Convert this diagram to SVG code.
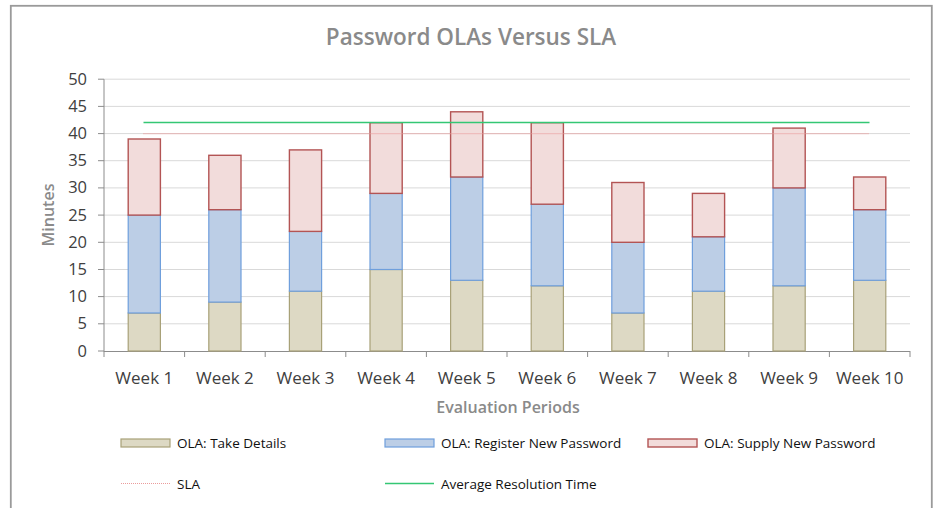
<svg xmlns="http://www.w3.org/2000/svg" width="936" height="508" viewBox="0 0 936 508">
<style>
.t{font-family:"Open Sans","Liberation Sans",sans-serif}
.title{font-size:22.5px;font-weight:600;fill:#8a8a8a}
.axt{font-size:16px;font-weight:600;fill:#8a8a8a}
.yl{font-size:16.5px;fill:#404040;text-anchor:end}
.xl{font-size:17px;fill:#404040;text-anchor:middle}
.lg{font-size:13.5px;fill:#111}
.grid{stroke:#d9d9d9;stroke-width:1}
.ax{stroke:#8c8c8c;stroke-width:1;fill:none}
.s1{fill:#ddd9c4;stroke:#a8a178;stroke-width:1.2}
.s2{fill:#bccee6;stroke:#6f9fdc;stroke-width:1.2}
.s3{fill:#f2dcdb;stroke:#b35454;stroke-width:1.4}
.avg{stroke:#34c774;stroke-width:1.5;fill:none}
.sla{stroke:#eb9c9c;stroke-width:1.2;stroke-dasharray:1 1;fill:none}
</style>
<rect x="0" y="0" width="936" height="508" fill="#ffffff"/>
<rect x="10.8" y="5.8" width="921" height="520" fill="none" stroke="#9a9a9a" stroke-width="1.8"/>
<text class="t title" x="471" y="45" text-anchor="middle">Password OLAs Versus SLA</text>
<g id="gridlines">
<line class="grid" x1="104" y1="323.8" x2="910" y2="323.8"/>
<line class="grid" x1="104" y1="296.6" x2="910" y2="296.6"/>
<line class="grid" x1="104" y1="269.5" x2="910" y2="269.5"/>
<line class="grid" x1="104" y1="242.3" x2="910" y2="242.3"/>
<line class="grid" x1="104" y1="215.1" x2="910" y2="215.1"/>
<line class="grid" x1="104" y1="187.9" x2="910" y2="187.9"/>
<line class="grid" x1="104" y1="160.7" x2="910" y2="160.7"/>
<line class="grid" x1="104" y1="133.6" x2="910" y2="133.6"/>
<line class="grid" x1="104" y1="106.4" x2="910" y2="106.4"/>
<line class="grid" x1="104" y1="79.2" x2="910" y2="79.2"/>
</g>
<g id="axes">
<path class="ax" d="M104,79.2V351.5H910 M98,351H104 M98,323.8H104 M98,296.6H104 M98,269.5H104 M98,242.3H104 M98,215.1H104 M98,187.9H104 M98,160.7H104 M98,133.6H104 M98,106.4H104 M98,79.2H104 M104,351V357 M184.6,351V357 M265.2,351V357 M345.8,351V357 M426.4,351V357 M507,351V357 M587.6,351V357 M668.2,351V357 M748.8,351V357 M829.4,351V357 M910,351V357"/>
</g>
<g id="ylabels" class="t yl">
<text x="87" y="356.5">0</text>
<text x="87" y="329.3">5</text>
<text x="87" y="302.1">10</text>
<text x="87" y="275">15</text>
<text x="87" y="247.8">20</text>
<text x="87" y="220.6">25</text>
<text x="87" y="193.4">30</text>
<text x="87" y="166.2">35</text>
<text x="87" y="139.1">40</text>
<text x="87" y="111.9">45</text>
<text x="87" y="84.7">50</text>
</g>
<text class="t axt" transform="translate(54,215) rotate(-90)" text-anchor="middle">Minutes</text>
<g id="week1"><rect class="s1" x="128.2" y="313" width="32.2" height="38"/><rect class="s2" x="128.2" y="215.1" width="32.2" height="97.9"/><rect class="s3" x="128.2" y="139" width="32.2" height="76.1"/></g>
<g id="week2"><rect class="s1" x="208.8" y="302.1" width="32.2" height="48.9"/><rect class="s2" x="208.8" y="209.7" width="32.2" height="92.4"/><rect class="s3" x="208.8" y="155.3" width="32.2" height="54.4"/></g>
<g id="week3"><rect class="s1" x="289.4" y="291.2" width="32.2" height="59.8"/><rect class="s2" x="289.4" y="231.4" width="32.2" height="59.8"/><rect class="s3" x="289.4" y="149.9" width="32.2" height="81.5"/></g>
<g id="week4"><rect class="s1" x="370" y="269.5" width="32.2" height="81.5"/><rect class="s2" x="370" y="193.4" width="32.2" height="76.1"/><rect class="s3" x="370" y="122.7" width="32.2" height="70.7"/></g>
<g id="week5"><rect class="s1" x="450.6" y="280.3" width="32.2" height="70.7"/><rect class="s2" x="450.6" y="177" width="32.2" height="103.3"/><rect class="s3" x="450.6" y="111.8" width="32.2" height="65.2"/></g>
<g id="week6"><rect class="s1" x="531.2" y="285.8" width="32.2" height="65.2"/><rect class="s2" x="531.2" y="204.2" width="32.2" height="81.6"/><rect class="s3" x="531.2" y="122.7" width="32.2" height="81.5"/></g>
<g id="week7"><rect class="s1" x="611.8" y="313" width="32.2" height="38"/><rect class="s2" x="611.8" y="242.3" width="32.2" height="70.7"/><rect class="s3" x="611.8" y="182.5" width="32.2" height="59.8"/></g>
<g id="week8"><rect class="s1" x="692.4" y="291.2" width="32.2" height="59.8"/><rect class="s2" x="692.4" y="236.8" width="32.2" height="54.4"/><rect class="s3" x="692.4" y="193.4" width="32.2" height="43.4"/></g>
<g id="week9"><rect class="s1" x="773" y="285.8" width="32.2" height="65.2"/><rect class="s2" x="773" y="187.9" width="32.2" height="97.9"/><rect class="s3" x="773" y="128.1" width="32.2" height="59.8"/></g>
<g id="week10"><rect class="s1" x="853.6" y="280.3" width="32.2" height="70.7"/><rect class="s2" x="853.6" y="209.7" width="32.2" height="70.6"/><rect class="s3" x="853.6" y="177" width="32.2" height="32.7"/></g>
<g id="connectors">
<line class="sla" x1="143.5" y1="133.6" x2="869.5" y2="133.6"/>
<line class="avg" x1="143.5" y1="122.5" x2="869.5" y2="122.5"/>
</g>
<g id="xlabels" class="t xl">
<text x="144.3" y="383.5">Week 1</text>
<text x="224.9" y="383.5">Week 2</text>
<text x="305.5" y="383.5">Week 3</text>
<text x="386.1" y="383.5">Week 4</text>
<text x="466.7" y="383.5">Week 5</text>
<text x="547.3" y="383.5">Week 6</text>
<text x="627.9" y="383.5">Week 7</text>
<text x="708.5" y="383.5">Week 8</text>
<text x="789.1" y="383.5">Week 9</text>
<text x="869.7" y="383.5">Week 10</text>
</g>
<text class="t axt" x="508" y="413" text-anchor="middle">Evaluation Periods</text>
<g id="legend">
<rect class="s1" x="121" y="439" width="49" height="8"/>
<text class="t lg" x="177" y="447.5">OLA: Take Details</text>
<rect class="s2" x="385" y="439" width="49" height="8"/>
<text class="t lg" x="441" y="447.5">OLA: Register New Password</text>
<rect class="s3" x="648" y="439" width="49" height="8"/>
<text class="t lg" x="704" y="447.5">OLA: Supply New Password</text>
<line class="sla" x1="121" y1="483.5" x2="170" y2="483.5"/>
<text class="t lg" x="177" y="488.5">SLA</text>
<line class="avg" x1="385" y1="483.5" x2="434" y2="483.5"/>
<text class="t lg" x="441" y="488.5">Average Resolution Time</text>
</g>
</svg>
